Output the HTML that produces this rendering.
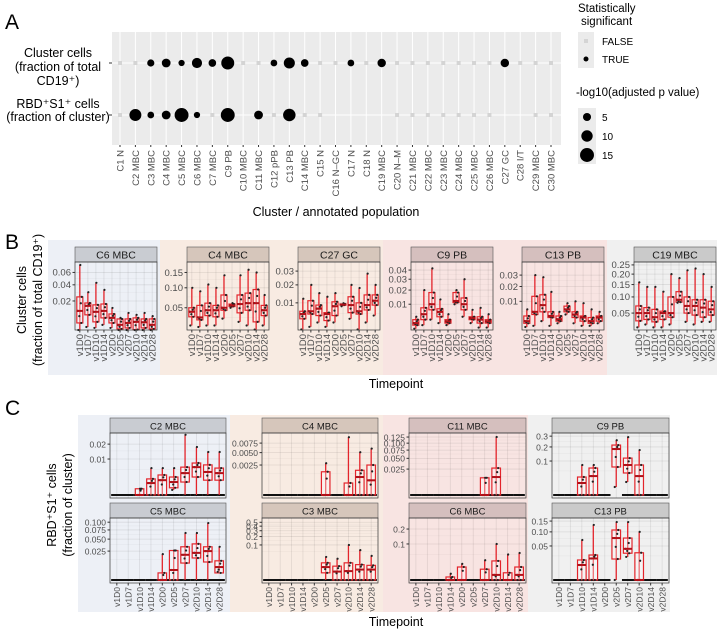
<!DOCTYPE html>
<html><head><meta charset="utf-8">
<style>
html,body{margin:0;padding:0;background:#fff;}
svg{display:block;font-family:"Liberation Sans",Arial,sans-serif;}
</style></head>
<body>
<svg id="fig" width="724" height="632" viewBox="0 0 724 632" xmlns="http://www.w3.org/2000/svg"></svg>
<script>
// ---------- Panel A data ----------
const clusters = ["C1 N","C2 MBC","C3 MBC","C4 MBC","C5 MBC","C6 MBC","C7 MBC","C9 PB","C10 MBC","C11 MBC","C12 pPB","C13 PB","C14 MBC","C15 N","C16 N\u2013GC","C17 N","C18 N","C19 MBC","C20 N\u2013M","C21 MBC","C22 MBC","C23 MBC","C24 MBC","C25 MBC","C26 MBC","C27 GC","C28 I/T","C29 MBC","C30 MBC"];
// -log10 p (0 = not significant, null = not tested)
const rowCluster = [0,0,4,6,3,8,4.5,13,0,0,3.5,9.5,4.5,0,0,3.5,0,5.5,0,0,0,0,0,0,0,5.5,0,0,0];
const rowRBD = [0,11,3.5,6,15,3,0,15,null,6,0,12,0,0,null,null,null,null,0,0,0,0,0,0,0,null,null,0,0];
const sizeLegend = [5,10,15];

// ---------- Panel B/C data ----------
const timepoints = ["v1D0","v1D7","v1D10","v1D14","v2D0","v2D5","v2D7","v2D10","v2D14","v2D28"];
// each box: [lo, q1, median, q3, hi]
const bC6 = [[.0011,.0038,.0111,.0244,.074],[.0022,.0083,.0153,.018,.030],[.0019,.0043,.0104,.0162,.043],[.003,.0064,.0111,.017,.033],[.0019,.0038,.0064,.0089,.0135],[.0011,.0016,.003,.0058,.0064],[.0011,.0019,.0038,.0058,.0096],[.0009,.0014,.0043,.0064,.0083],[.001,.0019,.0041,.0058,.0096],[.0011,.0016,.003,.0058,.0075]];
const bC4 = [[.02,.033,.042,.05,.10],[.018,.028,.032,.055,.09],[.02,.035,.045,.06,.11],[.02,.033,.045,.055,.10],[.03,.045,.05,.08,.14],[.05,.053,.055,.058,.06],[.025,.04,.058,.08,.14],[.02,.045,.06,.085,.16],[.015,.025,.06,.095,.15],[.02,.035,.045,.055,.08]];
const bC27 = [[.0015,.004,.0055,.0065,.012],[.002,.0055,.0065,.011,.02],[.003,.005,.0075,.009,.015],[.002,.0035,.0055,.006,.013],[.003,.005,.0085,.0105,.015],[.0085,.009,.0092,.0095,.0098],[.004,.006,.009,.013,.02],[.0015,.0055,.0065,.01,.018],[.003,.007,.009,.014,.028],[.005,.009,.011,.014,.02]];
const bC9 = [[.0008,.0015,.002,.003,.004],[.0015,.003,.005,.008,.02],[.003,.007,.01,.018,.042],[.002,.004,.006,.0075,.013],[.0015,.002,.0025,.003,.005],[.01,.011,.012,.018,.02],[.004,.007,.01,.014,.03],[.002,.003,.0035,.004,.007],[.001,.002,.003,.004,.008],[.001,.002,.0025,.003,.005]];
const bC13 = [[.0008,.0015,.002,.0035,.006],[.001,.004,.005,.013,.03],[.002,.005,.008,.014,.028],[.001,.003,.0035,.005,.016],[.0015,.002,.0025,.0035,.005],[.004,.005,.006,.0075,.009],[.0015,.003,.004,.005,.01],[.001,.002,.003,.0035,.009],[.001,.0015,.002,.003,.006],[.0015,.002,.003,.0035,.005]];
const bC19 = [[.02,.032,.05,.07,.16],[.025,.035,.05,.065,.14],[.02,.03,.04,.06,.14],[.02,.035,.05,.055,.12],[.025,.04,.05,.10,.20],[.08,.082,.09,.12,.18],[.03,.05,.07,.10,.22],[.025,.045,.07,.09,.23],[.03,.04,.065,.09,.2],[.03,.045,.06,.085,.14]];

const cC2 = [null,null,[0,0,0,.0003,.0003],[0,0,.0011,.002,.0056],[0,0,.0017,.0031,.0056],[.0002,.0004,.0013,.0025,.0056],[0,.0013,.0037,.006,.028],[0,.0025,.006,.0079,.0178],[0,.0017,.0041,.007,.0143],[0,.0017,.0037,.0056,.0143]];
const cC5 = [null,null,null,null,[0,0,0,.0015,.02],[0,0,.003,.026,.026],[0,.0086,.019,.033,.066],[0,.0145,.022,.039,.066],[0,.0097,.025,.033,.097],[.002,.0015,.005,.011,.033]];
const cC4 = [null,null,null,null,null,[0,0,0,.0015,.0028],null,[0,0,0,.0004,.0093],[0,0,.0009,.0017,.0051],[0,0,.0006,.0025,.006]];
const cC3 = [null,null,null,null,null,[0,.0006,.004,.01,.026],[0,0,.001,.005,.02],[0,0,.0012,.01,.1],[0,0,.002,.007,.06],[0,0,.002,.006,.03]];
const cC11 = [null,null,null,null,null,null,[0,0,0,.011,.011],[0,0,.012,.027,.125],null,null];
const cC6 = [null,null,null,[0,0,0,.0007,.003],[0,0,0,.013,.02],null,[0,0,0,.009,.03],[0,0,.002,.028,.1],[0,0,0,.004,.05],[0,0,.002,.013,.056]];
const cC9 = [null,null,[0,0,.0125,.028,.078],[0,0,.031,.063,.078],null,[.0055,.068,.183,.216,.26],[.0146,.042,.078,.118,.29],[0,0,.031,.078,.175],null,null];
const cC13 = [null,null,[0,0,.0097,.0173,.069],[0,0,.02,.027,.131],null,[0,.019,.076,.108,.145],[.023,.031,.042,.076,.145],[0,0,0,.032,.1],null,null];

// tick values + labels
const tC6=[.02,.04,.06], lC6=["0.02","0.04","0.06"];
const tC4=[.05,.10,.15], lC4=["0.05","0.10","0.15"];
const tC27=[.01,.02,.03], lC27=["0.01","0.02","0.03"];
const tC9=[.01,.02,.03,.04], lC9=["0.01","0.02","0.03","0.04"];
const tC13=[.01,.02,.03], lC13=["0.01","0.02","0.03"];
const tC19=[.05,.10,.15,.20,.25], lC19=["0.05","0.10","0.15","0.20","0.25"];
const tcC2=[.01,.02], lcC2=["0.01","0.02"];
const tcC4=[.0025,.005,.0075], lcC4=["0.0025","0.0050","0.0075"];
const tcC11=[.025,.05,.075,.1,.125], lcC11=["0.025","0.050","0.075","0.100","0.125"];
const tcC9=[.1,.2,.3], lcC9=["0.1","0.2","0.3"];
const tcC5=[.025,.05,.075,.1], lcC5=["0.025","0.050","0.075","0.100"];
const tcC3=[.1,.2,.3,.4,.5], lcC3=["0.1","0.2","0.3","0.4","0.5"];
const tcC6=[.1,.2], lcC6=["0.1","0.2"];
const tcC13=[.05,.1,.15], lcC13=["0.05","0.10","0.15"];

const NS="http://www.w3.org/2000/svg";
const svg=document.getElementById('fig');
function el(tag,attrs,parent,text){const e=document.createElementNS(NS,tag);for(const k in attrs)e.setAttribute(k,attrs[k]);if(text!==undefined)e.textContent=text;(parent||svg).appendChild(e);return e;}

// ---------- backgrounds ----------
const bgs=[[48,240,112,135,"#edf0f6","bg-b-blue"],[160,240,223,135,"#f8ebe2","bg-b-orange"],[383,240,224,135,"#f8e4e2","bg-b-pink"],[607,240,110,135,"#f0f0f0","bg-b-gray"],
[78,415,152,197,"#edf0f6","bg-c-blue"],[230,415,153,197,"#f8ebe2","bg-c-orange"],[383,415,145,197,"#f8e4e2","bg-c-pink"],[528,415,142,197,"#f0f0f0","bg-c-gray"]];
bgs.forEach(b=>{const r=el('rect',{x:b[0],y:b[1],width:b[2],height:b[3],fill:b[4]});});

// panel letters
[["A",5,29],["B",5,249],["C",5,415]].forEach(p=>{const t=el('text',{x:p[1],y:p[2],'font-size':21,fill:'#000'},svg,p[0]);});

// ---------- Panel A ----------
(function(){
  const g=el('g',{});
  const x0=112,x1=561,y0=32,y1=145;
  el('rect',{x:x0,y:y0,width:x1-x0,height:y1-y0,fill:'#ebebeb'},g);
  const xc=i=>120+i*(551-120)/(clusters.length-1);
  const rows=[63,115];
  clusters.forEach((c,i)=>{el('line',{x1:xc(i),x2:xc(i),y1:y0,y2:y1,stroke:'#fff','stroke-width':1},g);});
  rows.forEach(y=>el('line',{x1:x0,x2:x1,y1:y,y2:y,stroke:'#fff','stroke-width':1},g));
  const rad=p=>1.8*Math.sqrt(p);
  [rowCluster,rowRBD].forEach((row,ri)=>{
    row.forEach((v,i)=>{
      if(v===null)return;
      let m;
      if(v===0){m=el('rect',{x:xc(i)-2,y:rows[ri]-2,width:4,height:4,fill:'#d4d4d4'},g);}
      else{m=el('circle',{cx:xc(i),cy:rows[ri],r:rad(v),fill:'#000'},g);}
      
      
    });
  });
  clusters.forEach((c,i)=>{
    el('line',{x1:xc(i),x2:xc(i),y1:y1,y2:y1+2,stroke:'#333'},g);
    const t=el('text',{x:xc(i)+3.5,y:y1+5,'font-size':9.5,fill:'#4d4d4d','text-anchor':'end',transform:`rotate(-90 ${xc(i)+3.5} ${y1+5})`},g,c);
    
  });
  rows.forEach(y=>el('line',{x1:x0-3,x2:x0,y1:y,y2:y,stroke:'#333'},g));
  const yl=[["Cluster cells",57],["(fraction of total",71],["CD19\u207a)",85],["RBD\u207aS1\u207a cells",108],["(fraction of cluster)",121]];
  yl.forEach(l=>{const t=el('text',{x:58,y:l[1],'font-size':12.5,'text-anchor':'middle',fill:'#000'},g,l[0]);});
  const xt=el('text',{x:336,y:216,'font-size':12.5,'text-anchor':'middle',fill:'#000'},g,"Cluster / annotated population");
  
  // legend
  const lg=el('g',{},g);
  el('text',{x:578,y:12,'font-size':11.5},lg,"Statistically");
  el('text',{x:581,y:25,'font-size':11.5},lg,"significant");
  el('rect',{x:578,y:32,width:16,height:36,fill:'#ebebeb'},lg);
  el('rect',{x:584,y:39,width:4,height:4,fill:'#d4d4d4'},lg);
  el('circle',{cx:586,cy:59,r:2.5,fill:'#000'},lg);
  const f=el('text',{x:602,y:45,'font-size':10},lg,"FALSE");
  const tr=el('text',{x:602,y:63,'font-size':10},lg,"TRUE");
  el('text',{x:576,y:96,'font-size':11.5},lg,"-log10(adjusted p value)");
  el('rect',{x:578,y:108,width:18,height:56,fill:'#ebebeb'},lg);
  sizeLegend.forEach((s,i)=>{const y=117+i*19;el('circle',{cx:587,cy:y,r:rad(s),fill:'#000'},lg);
    const t=el('text',{x:602,y:y+4,'font-size':10},lg,String(s));});
})();

// ---------- facet drawing ----------
function facet(o){
  const g=el('g',{});
  const {x,y,w,h,stripH}=o;
  const st=el('rect',{x:x,y:y-stripH,width:w,height:stripH,fill:o.strip,stroke:'#555','stroke-width':0.6},g);
  
  el('text',{x:x+w/2,y:y-stripH/2+4,'font-size':o.fs+1,'text-anchor':'middle',fill:'#1a1a1a'},g,o.title);
  const pad=o.pad, pw=o.pow;
  const tr=v=>Math.pow(Math.max(v,0),pw);
  const ys=v=>{const vv=Math.max(v,o.vmin);return y+h-pad-(tr(vv)-tr(o.vmin))/(tr(o.vmax)-tr(o.vmin))*(h-pad);};
  const n=timepoints.length;
  const xs=i=>x+w*(i+0.6)/(n+0.2);
  const sp=w/(n+0.2);
  for(let i=0;i<n;i++)el('line',{x1:xs(i),x2:xs(i),y1:y,y2:y+h,stroke:'rgba(0,0,0,0.09)','stroke-width':0.8},g);
  o.ticks.forEach(t=>el('line',{x1:x,x2:x+w,y1:ys(t),y2:ys(t),stroke:'rgba(0,0,0,0.09)','stroke-width':0.8},g));
  for(let k=0;k<o.ticks.length;k++){const a=k===0?o.vmin:o.ticks[k-1];const m=(a+o.ticks[k])/2;el('line',{x1:x,x2:x+w,y1:ys(m),y2:ys(m),stroke:'rgba(0,0,0,0.05)','stroke-width':0.5},g);}
  if(o.zeroLine){for(let i=0;i<n;i++){if(o.skipZero&&o.skipZero.includes(i))continue;el('line',{x1:xs(i)-sp/2,x2:xs(i)+sp/2,y1:ys(0),y2:ys(0),stroke:'#111','stroke-width':2},g);}}
  o.boxes.forEach((b,i)=>{
    if(!b)return;
    const bg=el('g',{},g);
    const cx=xs(i),bw=sp*0.75;
    el('line',{x1:cx,x2:cx,y1:ys(b[4]),y2:ys(b[0]),stroke:'#e3242b','stroke-width':1.3},bg);
    el('rect',{x:cx-bw/2,y:ys(b[3]),width:bw,height:Math.max(ys(b[1])-ys(b[3]),0.8),fill:'rgba(255,255,255,0.35)',stroke:'#e3242b','stroke-width':1.2},bg);
    [b[0],b[1],b[2],b[3],b[4],(b[1]+b[2])/2,(b[2]+b[3])/2].forEach((v,k)=>{
      const off=[-1.5,1.5,-2,2,0.5,-0.5,1][k];
      el('circle',{cx:cx+off,cy:ys(v),r:1.1,fill:'#222'},bg);
    });
    el('line',{x1:cx-bw/2,x2:cx+bw/2,y1:ys(b[2]),y2:ys(b[2]),stroke:'#b01018','stroke-width':2},bg);
  });
  el('rect',{x:x,y:y,width:w,height:h,fill:'none',stroke:'#333','stroke-width':0.7},g);
  o.ticks.forEach((t,k)=>{
    el('line',{x1:x-2.5,x2:x,y1:ys(t),y2:ys(t),stroke:'#333'},g);
    const tt=el('text',{x:x-4,y:ys(t)+3.3,'font-size':o.fs,'text-anchor':'end',fill:'#4d4d4d'},g,o.labels[k]);
    
  });
  if(o.showX){
    timepoints.forEach((tp,i)=>{
      el('line',{x1:xs(i),x2:xs(i),y1:y+h,y2:y+h+2.5,stroke:'#333'},g);
      const tx=xs(i)+3.3, ty=y+h+4;
      const t=el('text',{x:tx,y:ty,'font-size':o.fs,'text-anchor':'end',fill:'#4d4d4d',transform:`rotate(-90 ${tx} ${ty})`},g,tp);
      
    });
  }
}
const SB={blue:'#c9ccd2',orange:'#d6c6bb',pink:'#d5bfbe',gray:'#cacaca'};
const bx=[75,187,298,411,522,634];
facet({panel:'b',title:'C6 MBC',x:bx[0],y:262,w:82,h:68,stripH:15,strip:SB.blue,fs:9.5,pad:0,pow:.5,vmin:.0013,vmax:.08,ticks:tC6,labels:lC6,boxes:bC6,showX:true});
facet({panel:'b',title:'C4 MBC',x:bx[1],y:262,w:82,h:68,stripH:15,strip:SB.orange,fs:9.5,pad:0,pow:.5,vmin:.0145,vmax:.19,ticks:tC4,labels:lC4,boxes:bC4,showX:true});
facet({panel:'b',title:'C27 GC',x:bx[2],y:262,w:82,h:68,stripH:15,strip:SB.orange,fs:9.5,pad:0,pow:.5,vmin:.0014,vmax:.0377,ticks:tC27,labels:lC27,boxes:bC27,showX:true});
facet({panel:'b',title:'C9 PB',x:bx[3],y:262,w:82,h:68,stripH:15,strip:SB.pink,fs:9.5,pad:0,pow:.5,vmin:.0006,vmax:.05,ticks:tC9,labels:lC9,boxes:bC9,showX:true});
facet({panel:'b',title:'C13 PB',x:bx[4],y:262,w:82,h:68,stripH:15,strip:SB.pink,fs:9.5,pad:0,pow:.5,vmin:.0004,vmax:.044,ticks:tC13,labels:lC13,boxes:bC13,showX:true});
facet({panel:'b',title:'C19 MBC',x:bx[5],y:262,w:82,h:68,stripH:15,strip:SB.gray,fs:9.5,pad:0,pow:.5,vmin:.016,vmax:.267,ticks:tC19,labels:lC19,boxes:bC19,showX:true});
const cx=[110,262,409,552];
facet({panel:'c',title:'C2 MBC',x:cx[0],y:433,w:116,h:65,stripH:15,strip:SB.blue,fs:8.5,pad:3,pow:.5,vmin:0,vmax:.0297,ticks:tcC2,labels:lcC2,boxes:cC2,zeroLine:true,showX:false});
facet({panel:'c',title:'C4 MBC',x:cx[1],y:433,w:116,h:65,stripH:15,strip:SB.orange,fs:8.5,pad:3,pow:.5,vmin:0,vmax:.0107,ticks:tcC4,labels:lcC4,boxes:cC4,zeroLine:true,showX:false});
facet({panel:'c',title:'C11 MBC',x:cx[2],y:433,w:117,h:65,stripH:15,strip:SB.pink,fs:8.5,pad:3,pow:.5,vmin:0,vmax:.143,ticks:tcC11,labels:lcC11,boxes:cC11,zeroLine:true,showX:false});
facet({panel:'c',title:'C9 PB',x:cx[3],y:433,w:117,h:65,stripH:15,strip:SB.gray,fs:8.5,pad:3,pow:.5,vmin:0,vmax:.333,ticks:tcC9,labels:lcC9,boxes:cC9,zeroLine:true,skipZero:[5],showX:false});
facet({panel:'c',title:'C5 MBC',x:cx[0],y:518,w:116,h:65,stripH:15,strip:SB.blue,fs:8.5,pad:3,pow:.5,vmin:0,vmax:.115,ticks:tcC5,labels:lcC5,boxes:cC5,zeroLine:true,showX:true});
facet({panel:'c',title:'C3 MBC',x:cx[1],y:518,w:116,h:65,stripH:15,strip:SB.orange,fs:8.5,pad:3,pow:.31,vmin:0,vmax:.63,ticks:tcC3,labels:lcC3,boxes:cC3,zeroLine:true,showX:true});
facet({panel:'c',title:'C6 MBC',x:cx[2],y:518,w:117,h:65,stripH:15,strip:SB.pink,fs:8.5,pad:3,pow:.5,vmin:0,vmax:.296,ticks:tcC6,labels:lcC6,boxes:cC6,zeroLine:true,showX:true});
facet({panel:'c',title:'C13 PB',x:cx[3],y:518,w:117,h:65,stripH:15,strip:SB.gray,fs:8.5,pad:3,pow:.5,vmin:0,vmax:.166,ticks:tcC13,labels:lcC13,boxes:cC13,zeroLine:true,skipZero:[5],showX:true});

function title(txt,x,y,rot,name){const a={x:x,y:y,'font-size':12.5,'text-anchor':'middle',fill:'#000'};if(rot)a.transform=`rotate(-90 ${x} ${y})`;const t=el('text',a,svg,txt);}
title("Timepoint",396,388,false,'x-axis-title-b');
title("Cluster cells",26,300,true,'y-axis-title-b');
title("(fraction of total CD19\u207a)",42,300,true,'y-axis-title-b2');
title("Timepoint",396,626,false,'x-axis-title-c');
title("RBD\u207aS1\u207a cells",56,505,true,'y-axis-title-c');
title("(fraction of cluster)",72,505,true,'y-axis-title-c2');
</script>
</body></html>
